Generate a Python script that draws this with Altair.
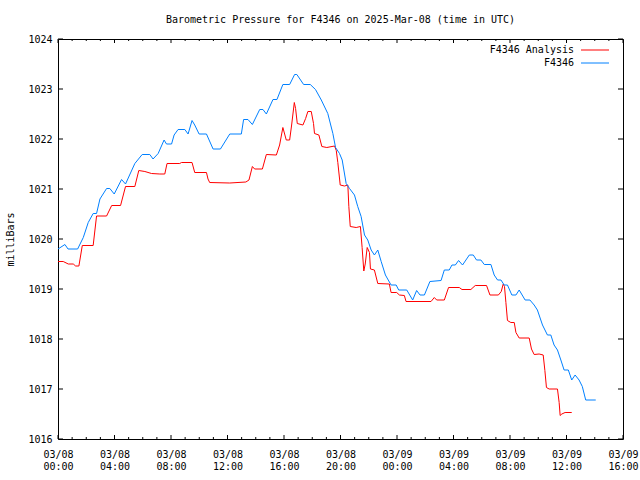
import altair as alt
import pandas as pd

# Hours since 2025-03-08 00:00 UTC
obs_hours = [0.0, 0.49, 0.71, 1.39, 1.79, 2.14, 2.49, 2.73, 2.97, 3.44, 3.67, 3.98, 4.50, 4.78,
             5.44, 5.96, 6.50, 6.73, 7.09, 7.51, 7.68, 8.04, 8.22, 8.50, 8.98, 9.21, 9.49, 9.68,
             9.99, 10.51, 10.98, 11.50, 12.16, 12.98, 13.14, 13.45, 13.76, 14.28, 14.51, 14.75,
             15.22, 15.50, 15.92, 16.40, 16.75, 16.91, 17.39, 17.86, 18.23, 18.64, 19.10, 19.46,
             19.65, 19.93, 20.12, 20.40, 20.64, 20.99, 21.22, 21.46, 21.70, 21.93, 22.17, 22.40,
             22.64, 22.88, 23.18, 23.58, 23.94, 24.12, 24.69, 25.11, 25.39, 25.63, 25.94, 26.33,
             27.12, 27.35, 27.70, 27.89, 28.13, 28.36, 28.64, 29.12, 29.40, 29.63, 29.94, 30.18,
             30.65, 30.88, 31.12, 31.36, 31.59, 31.82, 32.13, 32.42, 32.65, 33.07, 33.41, 33.71,
             33.94, 34.30, 34.65, 34.89, 35.12, 35.36, 35.60, 35.83, 36.13, 36.37, 36.61, 36.89,
             37.12, 37.36, 38.07]
obs_values = [1019.80, 1019.89, 1019.80, 1019.80, 1020.03, 1020.33, 1020.51, 1020.51, 1020.80,
              1021.01, 1021.01, 1020.90, 1021.19, 1021.10, 1021.51, 1021.69, 1021.69, 1021.60,
              1021.71, 1021.98, 1021.90, 1021.90, 1022.08, 1022.19, 1022.19, 1022.10, 1022.37,
              1022.28, 1022.10, 1022.10, 1021.80, 1021.80, 1022.10, 1022.10, 1022.39, 1022.39,
              1022.29, 1022.59, 1022.59, 1022.50, 1022.79, 1022.79, 1023.09, 1023.09, 1023.29,
              1023.29, 1023.09, 1023.09, 1022.99, 1022.78, 1022.51, 1022.11, 1021.83, 1021.71,
              1021.58, 1021.11, 1021.01, 1020.88, 1020.65, 1020.45, 1020.08, 1019.98, 1019.78,
              1019.68, 1019.78, 1019.55, 1019.28, 1019.08, 1019.08, 1018.98, 1018.98, 1018.78,
              1018.97, 1018.88, 1018.88, 1019.15, 1019.17, 1019.38, 1019.38, 1019.48, 1019.48,
              1019.57, 1019.48, 1019.68, 1019.68, 1019.58, 1019.58, 1019.49, 1019.49, 1019.28,
              1019.18, 1019.18, 1019.08, 1019.08, 1018.88, 1018.88, 1018.98, 1018.78, 1018.78,
              1018.68, 1018.58, 1018.28, 1018.08, 1018.08, 1017.88, 1017.78, 1017.58, 1017.38,
              1017.38, 1017.18, 1017.28, 1017.18, 1017.05, 1016.78, 1016.78]

ana_hours = [0.0, 0.37, 0.73, 1.08, 1.25, 1.48, 1.72, 2.49, 2.73, 3.44, 3.80, 4.43, 4.78, 5.44,
             5.72, 6.15, 6.62, 7.21, 7.56, 7.72, 8.62, 8.74, 9.49, 9.68, 10.51, 10.62, 10.74,
             12.16, 13.30, 13.52, 13.76, 13.92, 14.47, 14.75, 15.46, 15.69, 15.92, 16.16, 16.40,
             16.54, 16.73, 16.82, 16.94, 17.34, 17.53, 17.69, 17.93, 18.09, 18.16, 18.47, 18.68,
             19.03, 19.58, 19.70, 19.81, 19.98, 20.28, 20.52, 20.59, 20.69, 21.11, 21.41, 21.53,
             21.65, 21.75, 21.89, 22.05, 22.12, 22.40, 22.64, 23.46, 23.58, 23.98, 24.17, 24.52,
             24.64, 26.41, 26.64, 26.81, 27.35, 27.65, 28.41, 28.60, 29.23, 29.54, 30.34, 30.58,
             31.18, 31.38, 31.52, 31.61, 31.71, 31.82, 32.06, 32.30, 32.42, 32.65, 33.36, 33.52,
             33.71, 34.06, 34.35, 34.47, 34.58, 34.77, 35.36, 35.48, 35.55, 35.67, 35.90, 36.37]
ana_values = [1019.55, 1019.55, 1019.50, 1019.50, 1019.46, 1019.46, 1019.87, 1019.87, 1020.46,
              1020.46, 1020.67, 1020.67, 1021.05, 1021.05, 1021.37, 1021.35, 1021.31, 1021.30,
              1021.30, 1021.51, 1021.51, 1021.53, 1021.53, 1021.33, 1021.33, 1021.20, 1021.13,
              1021.12, 1021.14, 1021.18, 1021.45, 1021.40, 1021.40, 1021.69, 1021.68, 1021.88,
              1022.23, 1021.98, 1021.98, 1022.28, 1022.73, 1022.61, 1022.31, 1022.28, 1022.41,
              1022.55, 1022.55, 1022.31, 1022.11, 1022.08, 1021.85, 1021.83, 1021.86, 1021.77,
              1021.53, 1021.08, 1021.06, 1021.08, 1020.65, 1020.25, 1020.23, 1020.25, 1019.83,
              1019.36, 1019.50, 1019.83, 1019.73, 1019.40, 1019.38, 1019.11, 1019.10, 1018.93,
              1018.93, 1018.88, 1018.87, 1018.75, 1018.75, 1018.83, 1018.78, 1018.78, 1019.03,
              1019.03, 1018.99, 1018.99, 1019.07, 1019.07, 1018.88, 1018.88, 1018.95, 1019.10,
              1019.05, 1018.73, 1018.37, 1018.33, 1018.33, 1018.13, 1018.02, 1018.02, 1017.80,
              1017.69, 1017.70, 1017.68, 1017.37, 1017.03, 1017.00, 1017.00, 1016.73, 1016.47,
              1016.50, 1016.53, 1016.53]

series_names = ["F4346 Analysis", "F4346"]
series_colors = ["#ff0000", "#0080ff"]
x_tick_values = list(range(0, 44, 4))
x_minor_values = [h for h in range(0, 41) if h % 4 != 0]
y_tick_values = list(range(1016, 1025))

FONT = "DejaVu Sans Mono"
W, H = 565, 400

df = pd.concat([
    pd.DataFrame({"hour": ana_hours, "mbar": ana_values, "series": series_names[0]}),
    pd.DataFrame({"hour": obs_hours, "mbar": obs_values, "series": series_names[1]}),
])

xscale = alt.Scale(domain=[0, 40], nice=False, zero=False)
yscale = alt.Scale(domain=[1016, 1024], nice=False, zero=False)
cscale = alt.Scale(domain=series_names, range=series_colors)

label_expr = ("[datum.value < 24 ? '03/08' : '03/09', "
              "(datum.value % 24 < 10 ? '0' : '') + (datum.value % 24) + ':00']")

x_axis = alt.Axis(values=x_tick_values, labelExpr=label_expr, ticks=False, domain=False,
                  grid=False, title=None, labelPadding=10, labelLineHeight=12.5,
                  labelFont=FONT, labelFontSize=10, labelColor="black",
                  labelBaseline="top", labelFlush=False, labelAlign="center",
                  labelOverlap=False)
y_axis = alt.Axis(values=y_tick_values, ticks=False, domain=False, grid=False,
                  title="milliBars", titleFont=FONT, titleFontSize=10,
                  titleFontWeight="normal", titlePadding=12, titleColor="black",
                  labelPadding=6, labelFont=FONT, labelFontSize=10,
                  labelColor="black", format="d", labelFlush=False)

lines = alt.Chart(df).mark_line(strokeWidth=1, interpolate="linear").encode(
    x=alt.X("hour:Q", scale=xscale, axis=x_axis),
    y=alt.Y("mbar:Q", scale=yscale, axis=y_axis),
    color=alt.Color("series:N", scale=cscale, legend=None),
    detail="series:N",
)

xmaj = pd.DataFrame({"hour": x_tick_values})
xmin = pd.DataFrame({"hour": x_minor_values})
ytk = pd.DataFrame({"mbar": y_tick_values})


def xticks(data, y0, y1):
    return alt.Chart(data).mark_rule(color="black", strokeWidth=1).encode(
        x=alt.X("hour:Q", scale=xscale, axis=x_axis), y=alt.value(y0), y2=alt.value(y1))


def yticks(x0, x1):
    return alt.Chart(ytk).mark_rule(color="black", strokeWidth=1).encode(
        y=alt.Y("mbar:Q", scale=yscale, axis=y_axis), x=alt.value(x0), x2=alt.value(x1))


tick_layers = [
    xticks(xmaj, H, H - 4), xticks(xmin, H, H - 2),
    xticks(xmaj, 0, 4), xticks(xmin, 0, 2),
    yticks(0, 5), yticks(W - 5, W),
]

legend_layers = []
legend_rows = [11, 24]
for name, color, row in zip(series_names, series_colors, legend_rows):
    ldf = pd.DataFrame({"series": [name]})
    legend_layers.append(
        alt.Chart(ldf).mark_text(align="right", baseline="middle", font=FONT, fontSize=10,
                                 color="black").encode(
            text="series:N", x=alt.value(516), y=alt.value(row))
    )
    legend_layers.append(
        alt.Chart(ldf).mark_rule(color=color, strokeWidth=1).encode(
            x=alt.value(523), x2=alt.value(551), y=alt.value(row))
    )

chart = alt.layer(lines, *tick_layers, *legend_layers).properties(
    width=W,
    height=H,
    padding={"left": 58, "top": 39, "right": 17, "bottom": 41},
    autosize="none",
    background="white",
    title=alt.TitleParams("Barometric Pressure for F4346 on 2025-Mar-08 (time in UTC)",
                          font=FONT, fontSize=10, fontWeight="normal", color="black",
                          anchor="middle", offset=9),
).configure_view(stroke="black", strokeWidth=1)

chart.save("out.html", embed_options={"renderer": "svg", "actions": False})
